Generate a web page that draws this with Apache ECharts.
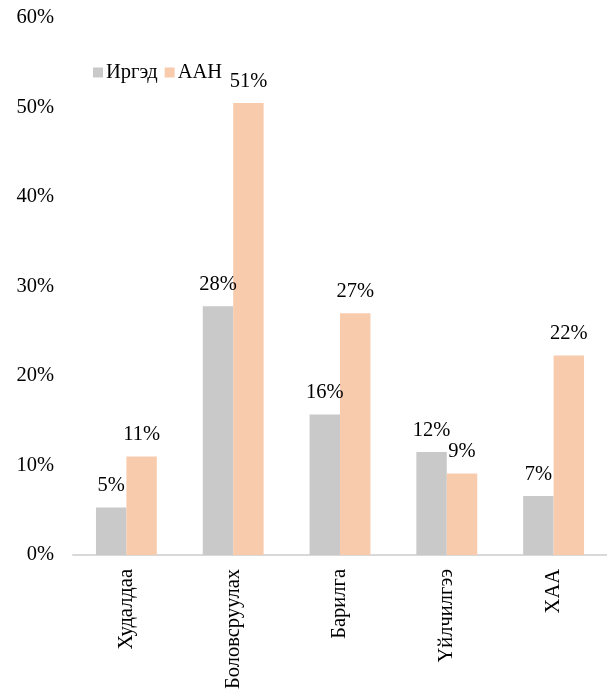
<!DOCTYPE html>
<html>
<head>
<meta charset="utf-8">
<script src="https://cdn.jsdelivr.net/npm/echarts@6/dist/echarts.min.js"></script>
<style>
html,body{margin:0;padding:0;background:#fff;}
#chart{width:607px;height:696px;}
</style>
</head>
<body>
<div id="chart"></div>
<script>
const categories = ['Худалдаа', 'Боловсруулах', 'Барилга', 'Үйлчилгээ', 'ХАА'];
const seriesNames = ['Иргэд', 'ААН'];
const irged = [5.3, 27.8, 15.7, 11.5, 6.6];
const aan = [11.0, 50.5, 27.0, 9.1, 22.3];
const yTicks = [0, 10, 20, 30, 40, 50, 60];

const font = '"Liberation Serif", "Times New Roman", serif';
const fs = 20.5;
const chart = echarts.init(document.getElementById('chart'));
chart.setOption({
  animation: false,
  textStyle: { fontFamily: font },
  legend: {
    left: 88, top: 57,
    itemWidth: 10, itemHeight: 10, itemGap: 7,
    icon: 'rect',
    textStyle: { fontFamily: font, fontSize: fs, color: '#000', padding: [0, 0, 0, -2] },
    data: seriesNames
  },
  grid: { left: 73, right: 0, top: 18, bottom: 141, containLabel: false },
  xAxis: {
    type: 'category',
    data: categories,
    axisLine: { lineStyle: { color: '#d9d9d9', width: 2 } },
    axisTick: { show: false },
    axisLabel: { rotate: 90, margin: 14, fontFamily: font, fontSize: fs, color: '#000' }
  },
  yAxis: {
    type: 'value',
    min: yTicks[0], max: yTicks[yTicks.length - 1], interval: 10,
    axisLine: { show: false },
    axisTick: { show: false },
    splitLine: { show: false },
    axisLabel: { margin: 19, fontFamily: font, fontSize: fs, color: '#000', formatter: v => v + '%' }
  },
  series: [
    {
      name: seriesNames[0], type: 'bar', data: irged,
      barGap: '0%', barCategoryGap: '43%',
      itemStyle: { color: '#c9c9c9' },
      label: { show: true, position: 'top', distance: 11, fontFamily: font, fontSize: fs, color: '#000',
        formatter: p => Math.round(p.value) + '%' }
    },
    {
      name: seriesNames[1], type: 'bar', data: aan,
      barGap: '0%', barCategoryGap: '43%',
      itemStyle: { color: '#f8cbad' },
      label: { show: true, position: 'top', distance: 11, fontFamily: font, fontSize: fs, color: '#000',
        formatter: p => Math.round(p.value) + '%' }
    }
  ]
});
</script>
</body>
</html>
